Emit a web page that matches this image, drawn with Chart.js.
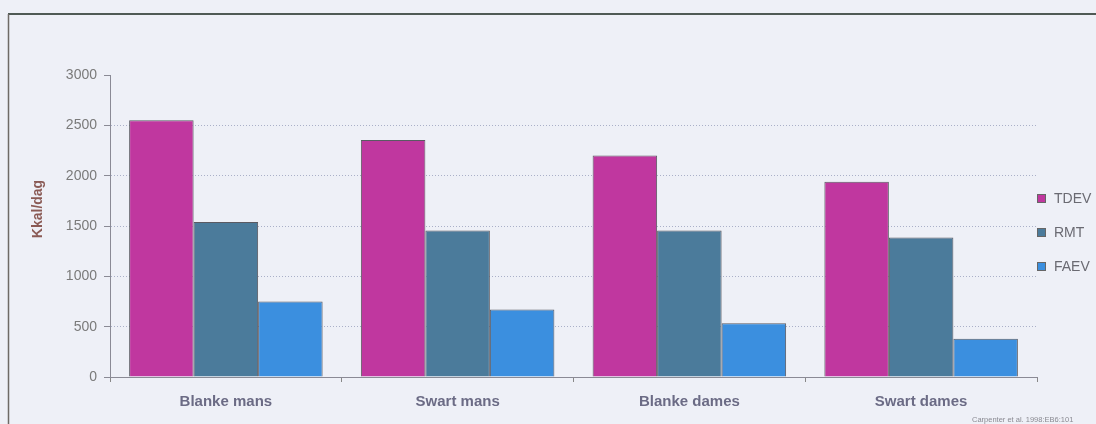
<!DOCTYPE html>
<html><head><meta charset="utf-8">
<script src="https://cdn.jsdelivr.net/npm/chart.js@4/dist/chart.umd.min.js"></script>
<style>html,body{margin:0;padding:0;background:#eef0f7;}#wrap{width:1096px;height:424px;position:relative}</style>
</head><body><div id="wrap"><canvas id="c" width="1096" height="424"></canvas></div>
<script>
const categories = ["Blanke mans", "Swart mans", "Blanke dames", "Swart dames"];
const seriesNames = ["TDEV", "RMT", "FAEV"];
const tdev = [2550, 2355, 2200, 1940];
const rmt  = [1540, 1455, 1455, 1385];
const faev = [750, 670, 535, 380];
const yTicks = [0, 500, 1000, 1500, 2000, 2500, 3000];
const yTitle = "Kkal/dag";
const footnote = "Carpenter et al. 1998:EB6:101";
const colors = ["#c0379f", "#4b7b9b", "#3b8fdf"];
const FONT = '"Liberation Sans", Arial, sans-serif';

const frame = {
  id: 'frame',
  beforeDraw(chart) {
    const c = chart.ctx;
    c.save();
    c.fillStyle = '#eef0f7';
    c.fillRect(0, 0, chart.width, chart.height);
    c.strokeStyle = '#4f5a55'; c.lineWidth = 2;
    c.beginPath(); c.moveTo(8, 14); c.lineTo(1096, 14); c.stroke();
    c.strokeStyle = '#6e6a66'; c.lineWidth = 1.5;
    c.beginPath(); c.moveTo(8.5, 14); c.lineTo(8.5, 424); c.stroke();
    c.restore();
  },
  afterDraw(chart) {
    const c = chart.ctx;
    c.save();
    const ys = [198, 232, 266];
    chart.data.datasets.forEach((ds, i) => {
      c.fillStyle = ds.backgroundColor;
      c.strokeStyle = '#666'; c.lineWidth = 1;
      c.fillRect(1037, ys[i] - 4, 9, 9);
      c.strokeRect(1037.5, ys[i] - 3.5, 8, 8);
      c.fillStyle = '#6a6a72';
      c.font = '14px ' + FONT;
      c.textBaseline = 'middle'; c.textAlign = 'left';
      c.fillText(ds.label, 1054, ys[i] + 1);
    });
    // y axis title
    c.save();
    c.translate(38, 209);
    c.rotate(-Math.PI / 2);
    c.font = 'bold 14px ' + FONT;
    c.fillStyle = '#8a5a55';
    c.textAlign = 'center'; c.textBaseline = 'middle';
    c.fillText(yTitle, 0, 0);
    c.restore();
    c.font = '7.5px ' + FONT;
    c.fillStyle = '#8a8a92';
    c.textAlign = 'left'; c.textBaseline = 'middle';
    c.fillText(footnote, 972, 420);
    c.restore();
  }
};

new Chart(document.getElementById('c'), {
  type: 'bar',
  data: {
    labels: categories,
    datasets: [tdev, rmt, faev].map((d, i) => ({
      label: seriesNames[i], data: d,
      backgroundColor: colors[i], borderColor: '#5a5a62', borderWidth: 1,
      categoryPercentage: 0.835, barPercentage: 1.0
    }))
  },
  options: {
    responsive: false, animation: false, devicePixelRatio: 1,
    layout: { padding: { left: 32, right: 59, top: 75, bottom: 0 } },
    plugins: { legend: { display: false }, tooltip: { enabled: false } },
    scales: {
      x: {
        grid: { offset: true, drawOnChartArea: false, tickLength: 5, color: '#888' },
        border: { color: '#8a8a95', width: 1 },
        ticks: { padding: 11, color: '#6b6b85', font: { family: FONT, size: 15, weight: 'bold' } },
        afterFit(s) { s.height = 47; }
      },
      y: {
        min: 0, max: 3000,
        afterBuildTicks(s) { s.ticks = yTicks.map(v => ({ value: v })); },
        grid: {
          color: ctx => (ctx.tick && (ctx.tick.value === 3000 || ctx.tick.value === 0)) ? 'rgba(0,0,0,0)' : '#aab0c8',
          tickColor: '#8a8a95', tickLength: 6, lineWidth: 1
        },
        border: { color: '#8a8a95', width: 1, dash: [1, 2] },
        ticks: { padding: 7, color: '#7a7a7a', font: { family: FONT, size: 14 }, callback: v => String(v) },
        title: { display: false },
        afterFit(s) { s.width = 78; }
      }
    }
  },
  plugins: [frame]
});
</script></body></html>
